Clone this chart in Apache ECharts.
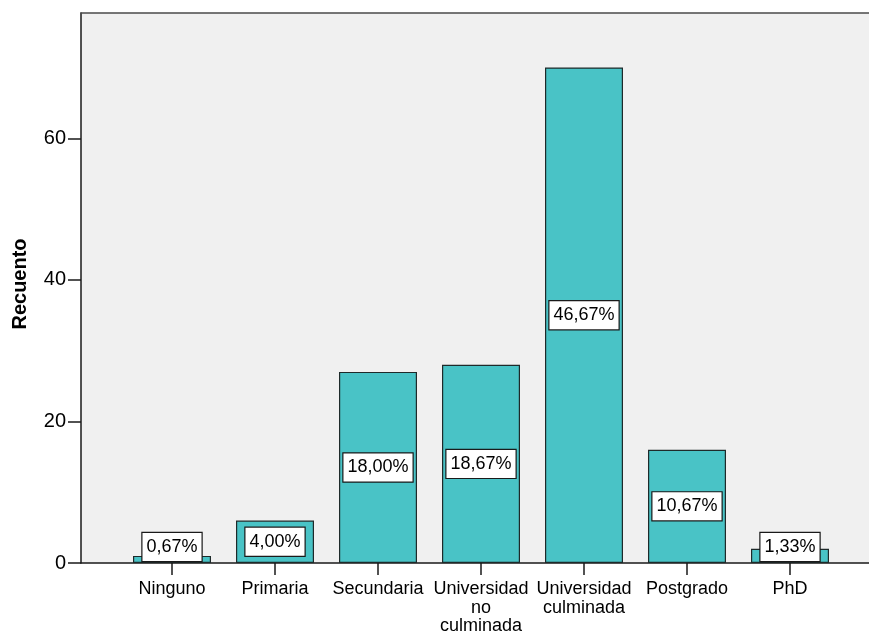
<!DOCTYPE html>
<html>
<head>
<meta charset="utf-8">
<script src="https://cdn.jsdelivr.net/npm/echarts@6/dist/echarts.min.js"></script>
<style>
html,body{margin:0;padding:0;background:#fff;}
#chart{width:869px;height:632px;}
</style>
</head>
<body>
<div id="chart"></div>
<script>
const categories = ['Ninguno', 'Primaria', 'Secundaria', 'Universidad\nno\nculminada', 'Universidad\nculminada', 'Postgrado', 'PhD'];
const counts = [1, 6, 27, 28, 70, 16, 2];
const pctLabels = ['0,67%', '4,00%', '18,00%', '18,67%', '46,67%', '10,67%', '1,33%'];
const yTicks = [0, 20, 40, 60];

const FONT = 'Liberation Sans, Arial, sans-serif';
const chart = echarts.init(document.getElementById('chart'));

const barData = counts.map((v, i) => ({
  value: v,
  label: v < 5 ? { position: 'insideBottom', distance: 2 } : { position: 'inside' }
}));

chart.setOption({
  animation: false,
  grid: [
    { left: 81, top: 13, right: 0, bottom: 69, show: true, backgroundColor: '#f0f0f0', borderWidth: 0,
      outerBoundsMode: 'none', containLabel: false },
    { left: 120.5, top: 13, width: 721, bottom: 69, outerBoundsMode: 'none', containLabel: false }
  ],
  xAxis: [
    { gridIndex: 0, type: 'value', min: 0, max: 1, position: 'bottom',
      axisLine: { show: true, lineStyle: { color: '#1a1a1a', width: 1.5 } },
      axisTick: { show: false }, axisLabel: { show: false }, splitLine: { show: false } },
    { gridIndex: 0, type: 'value', min: 0, max: 1, position: 'top',
      axisLine: { show: true, lineStyle: { color: '#4a4a4a', width: 1.5 } },
      axisTick: { show: false }, axisLabel: { show: false }, splitLine: { show: false } },
    { gridIndex: 1, type: 'category', data: categories, position: 'bottom',
      axisLine: { show: false },
      axisTick: { show: true, alignWithLabel: true, length: 12, lineStyle: { color: '#1a1a1a', width: 1.5 } },
      axisLabel: { color: '#000', fontFamily: FONT, fontSize: 18, lineHeight: 18.5, margin: 17, interval: 0 },
      splitLine: { show: false } }
  ],
  yAxis: [
    { gridIndex: 0, type: 'value', min: 0, max: 77.7, interval: 20,
      name: 'Recuento', nameLocation: 'middle', nameGap: 51, nameRotate: 90,
      nameTextStyle: { color: '#000', fontFamily: FONT, fontSize: 20, fontWeight: 'bold', padding: [0, 0, 0, 8] },
      axisLine: { show: true, lineStyle: { color: '#1a1a1a', width: 1.5 } },
      axisTick: { show: true, length: 13, customValues: yTicks, lineStyle: { color: '#1a1a1a', width: 1.5 } },
      axisLabel: { color: '#000', fontFamily: FONT, fontSize: 20, margin: 15, customValues: yTicks },
      splitLine: { show: false } },
    { gridIndex: 1, type: 'value', min: 0, max: 77.7,
      axisLine: { show: false }, axisTick: { show: false }, axisLabel: { show: false }, splitLine: { show: false } }
  ],
  series: [{
    type: 'bar',
    xAxisIndex: 2,
    yAxisIndex: 1,
    data: barData,
    barWidth: 78,
    itemStyle: { color: '#49c3c6', borderColor: '#1e2a2a', borderWidth: 1.2 },
    label: {
      show: true,
      formatter: p => pctLabels[p.dataIndex],
      color: '#000',
      fontFamily: FONT,
      fontSize: 18,
      lineHeight: 19,
      backgroundColor: '#fff',
      borderColor: '#1a1a1a',
      borderWidth: 1.2,
      padding: [5, 4, 4, 4]
    }
  }]
});
</script>
</body>
</html>
